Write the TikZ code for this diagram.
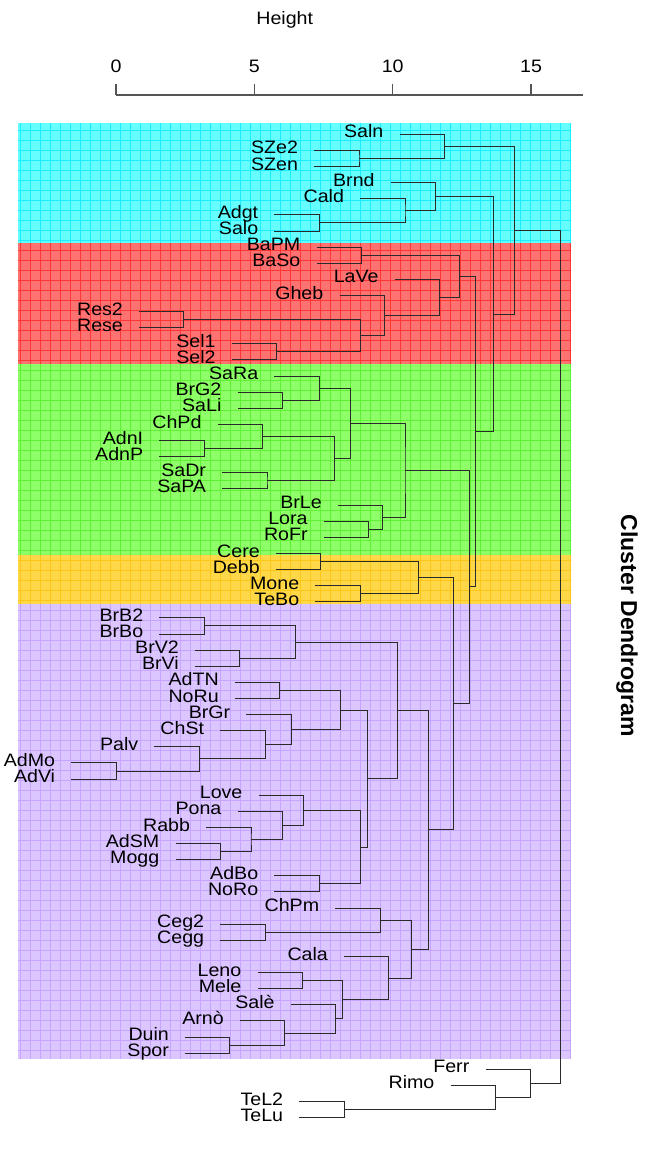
\documentclass[tikz,border=0pt]{standalone}
\usepackage{fontspec}
\setmainfont{Liberation Sans}[FakeStretch=1.09]
\newfontfamily\titlefont{Liberation Sans}
\usetikzlibrary{positioning, calc}
\definecolor{fcyan}{HTML}{66FFFF}
\definecolor{lcyan}{HTML}{1CECFF}
\definecolor{fred}{HTML}{FF7272}
\definecolor{lred}{HTML}{FF3636}
\definecolor{fgreen}{HTML}{8EFF68}
\definecolor{lgreen}{HTML}{60F035}
\definecolor{fyellow}{HTML}{FFD84A}
\definecolor{lyellow}{HTML}{FFC61A}
\definecolor{fpurple}{HTML}{DCC6FF}
\definecolor{lpurple}{HTML}{C6A4FF}
\definecolor{branchcol}{HTML}{2A2A2A}
\definecolor{axiscol}{HTML}{555555}

% leaf: name, row, height of its merge, label
\newcommand{\leaf}[4]{%
  \coordinate (#1) at ({#3-44.8}, {134.3+16.12*#2});
  \node[lbl, left=16pt of #1] (#1-t) {#4};
}
% merge: name, height, upper child, lower child
\newcommand{\merge}[4]{%
  \path let \p1=(#3), \p2=(#4) in (#2pt, {0.5*\y1+0.5*\y2}) coordinate (#1);
  \draw[branch] (#3) -| (#1) |- (#4);
}

\begin{document}
\begin{tikzpicture}[
    x=1pt, y=-1pt,
    lbl/.style={font=\fontsize{18}{21}\selectfont, inner sep=0pt, text height=0.716em, text depth=0pt, text=black},
    branch/.style={draw=branchcol, line width=1pt},
    axis/.style={draw=axiscol, line width=1.3pt},
  ]
    \useasboundingbox[fill=white] (0,0) rectangle (648,1150);

    % cluster bands
    \foreach \top/\bot/\col in {123/243/cyan, 243/364/red, 364/555/green, 555/604/yellow, 604/1059/purple} {
      \fill[f\col] (18,\top) rectangle (571,\bot);
      \begin{scope}
        \clip (18,\top) rectangle (571,\bot);
        \draw[l\col, line width=0.6pt, xstep=10pt, ystep=10pt] (10,\bot) grid (580,\top);
      \end{scope}
    }

    % axis
    \node[lbl] (ytitle) at (284.7,20.5) {Height};
    \draw[axis] (116.1,95) -- (583.1,95);
    \foreach \h in {0,5,10,15} {
      \draw[axis] ({116.1+27.66*\h},95) -- ++(0,-11) node[lbl, above=11pt] (tick\h) {\h};
    }
    \node[font=\titlefont\fontsize{23}{26}\selectfont\bfseries, rotate=-90] (title) at (627,626) {Cluster Dendrogram};

    % leaves
    \leaf{Saln}{0}{444.4}{Saln}
    \leaf{SZe2}{1}{359.0}{SZe2}
    \leaf{SZen}{2}{359.0}{SZen}
    \leaf{Brnd}{3}{435.6}{Brnd}
    \leaf{Cald}{4}{405.0}{Cald}
    \leaf{Adgt}{5}{319.2}{Adgt}
    \leaf{Salo}{6}{319.2}{Salo}
    \leaf{BaPM}{7}{361.3}{BaPM}
    \leaf{BaSo}{8}{361.3}{BaSo}
    \leaf{LaVe}{9}{439.5}{LaVe}
    \leaf{Gheb}{10}{384.3}{Gheb}
    \leaf{Res2}{11}{183.9}{Res2}
    \leaf{Rese}{12}{183.9}{Rese}
    \leaf{Sel1}{13}{276.6}{Sel1}
    \leaf{Sel2}{14}{276.6}{Sel2}
    \leaf{SaRa}{15}{319.2}{SaRa}
    \leaf{BrG2}{16}{282.4}{BrG2}
    \leaf{SaLi}{17}{282.4}{SaLi}
    \leaf{ChPd}{18}{262.5}{ChPd}
    \leaf{AdnI}{19}{204.2}{AdnI}
    \leaf{AdnP}{20}{204.2}{AdnP}
    \leaf{SaDr}{21}{267.0}{SaDr}
    \leaf{SaPA}{22}{267.0}{SaPA}
    \leaf{BrLe}{23}{382.8}{BrLe}
    \leaf{Lora}{24}{368.6}{Lora}
    \leaf{RoFr}{25}{368.6}{RoFr}
    \leaf{Cere}{26}{320.7}{Cere}
    \leaf{Debb}{27}{320.7}{Debb}
    \leaf{Mone}{28}{360.2}{Mone}
    \leaf{TeBo}{29}{360.2}{TeBo}
    \leaf{BrB2}{30}{204.2}{BrB2}
    \leaf{BrBo}{31}{204.2}{BrBo}
    \leaf{BrV2}{32}{239.8}{BrV2}
    \leaf{BrVi}{33}{239.8}{BrVi}
    \leaf{AdTN}{34}{279.7}{AdTN}
    \leaf{NoRu}{35}{279.7}{NoRu}
    \leaf{BrGr}{36}{291.2}{BrGr}
    \leaf{ChSt}{37}{265.1}{ChSt}
    \leaf{Palv}{38}{199.2}{Palv}
    \leaf{AdMo}{39}{116.1}{AdMo}
    \leaf{AdVi}{40}{116.1}{AdVi}
    \leaf{Love}{41}{303.4}{Love}
    \leaf{Pona}{42}{282.4}{Pona}
    \leaf{Rabb}{43}{251.0}{Rabb}
    \leaf{AdSM}{44}{220.3}{AdSM}
    \leaf{Mogg}{45}{220.3}{Mogg}
    \leaf{AdBo}{46}{319.2}{AdBo}
    \leaf{NoRo}{47}{319.2}{NoRo}
    \leaf{ChPm}{48}{380.1}{ChPm}
    \leaf{Ceg2}{49}{265.1}{Ceg2}
    \leaf{Cegg}{50}{265.1}{Cegg}
    \leaf{Cala}{51}{388.9}{Cala}
    \leaf{Leno}{52}{302.3}{Leno}
    \leaf{Mele}{53}{302.3}{Mele}
    \leaf{Sale}{54}{335.6}{Salè}
    \leaf{Arno}{55}{284.7}{Arnò}
    \leaf{Duin}{56}{229.9}{Duin}
    \leaf{Spor}{57}{229.9}{Spor}
    \leaf{Ferr}{58}{530.3}{Ferr}
    \leaf{Rimo}{59}{495.4}{Rimo}
    \leaf{TeL2}{60}{344.1}{TeL2}
    \leaf{TeLu}{61}{344.1}{TeLu}

    % cyan
    \merge{mSZ}{359.0}{SZe2}{SZen}
    \merge{mSaln}{444.4}{Saln}{mSZ}
    \merge{mAdgt}{319.2}{Adgt}{Salo}
    \merge{mCald}{405.0}{Cald}{mAdgt}
    \merge{mBrnd}{435.6}{Brnd}{mCald}
    % red
    \merge{mBa}{361.3}{BaPM}{BaSo}
    \merge{mRes}{183.9}{Res2}{Rese}
    \merge{mSel}{276.6}{Sel1}{Sel2}
    \merge{mResSel}{360.2}{mRes}{mSel}
    \merge{mGheb}{384.3}{Gheb}{mResSel}
    \merge{mLaVe}{439.5}{LaVe}{mGheb}
    \merge{mRed}{459.8}{mBa}{mLaVe}
    % green
    \merge{mSaLi}{282.4}{BrG2}{SaLi}
    \merge{mSaRa}{319.2}{SaRa}{mSaLi}
    \merge{mAdn}{204.2}{AdnI}{AdnP}
    \merge{mChPd}{262.5}{ChPd}{mAdn}
    \merge{mSaDr}{267.0}{SaDr}{SaPA}
    \merge{mChSa}{334.1}{mChPd}{mSaDr}
    \merge{mGrA}{350.2}{mSaRa}{mChSa}
    \merge{mLora}{368.6}{Lora}{RoFr}
    \merge{mBrLe}{382.8}{BrLe}{mLora}
    \merge{mGreen}{405.0}{mGrA}{mBrLe}
    % yellow
    \merge{mCere}{320.7}{Cere}{Debb}
    \merge{mMone}{360.2}{Mone}{TeBo}
    \merge{mYellow}{418.8}{mCere}{mMone}
    % purple
    \merge{mBrB}{204.2}{BrB2}{BrBo}
    \merge{mBrV}{239.8}{BrV2}{BrVi}
    \merge{mBr}{295.8}{mBrB}{mBrV}
    \merge{mAdTN}{279.7}{AdTN}{NoRu}
    \merge{mAdM}{116.1}{AdMo}{AdVi}
    \merge{mPalv}{199.2}{Palv}{mAdM}
    \merge{mChSt}{265.1}{ChSt}{mPalv}
    \merge{mBrGr}{291.2}{BrGr}{mChSt}
    \merge{mPuA}{340.2}{mAdTN}{mBrGr}
    \merge{mAdSM}{220.3}{AdSM}{Mogg}
    \merge{mRabb}{251.0}{Rabb}{mAdSM}
    \merge{mPona}{282.4}{Pona}{mRabb}
    \merge{mLove}{303.4}{Love}{mPona}
    \merge{mAdBo}{319.2}{AdBo}{NoRo}
    \merge{mPuB}{360.2}{mLove}{mAdBo}
    \merge{mPuC}{367.8}{mPuA}{mPuB}
    \merge{mPuD}{397.3}{mBr}{mPuC}
    \merge{mCeg}{265.1}{Ceg2}{Cegg}
    \merge{mChPm}{380.1}{ChPm}{mCeg}
    \merge{mLeno}{302.3}{Leno}{Mele}
    \merge{mDuin}{229.9}{Duin}{Spor}
    \merge{mArno}{284.7}{Arno}{mDuin}
    \merge{mSale}{335.6}{Sale}{mArno}
    \merge{mPuE}{342.1}{mLeno}{mSale}
    \merge{mCala}{388.9}{Cala}{mPuE}
    \merge{mPuF}{411.1}{mChPm}{mCala}
    \merge{mPurple}{428.4}{mPuD}{mPuF}
    % upper levels
    \merge{mYP}{453.3}{mYellow}{mPurple}
    \merge{mGYP}{469.3}{mGreen}{mYP}
    \merge{mRGYP}{475.1}{mRed}{mGYP}
    \merge{mCRGYP}{493.5}{mBrnd}{mRGYP}
    \merge{mTop}{514.6}{mSaln}{mCRGYP}
    % outliers
    \merge{mTeL}{344.1}{TeL2}{TeLu}
    \merge{mRimo}{495.4}{Rimo}{mTeL}
    \merge{mFerr}{530.3}{Ferr}{mRimo}
    \merge{root}{560.5}{mTop}{mFerr}
  \end{tikzpicture}
\end{document}
